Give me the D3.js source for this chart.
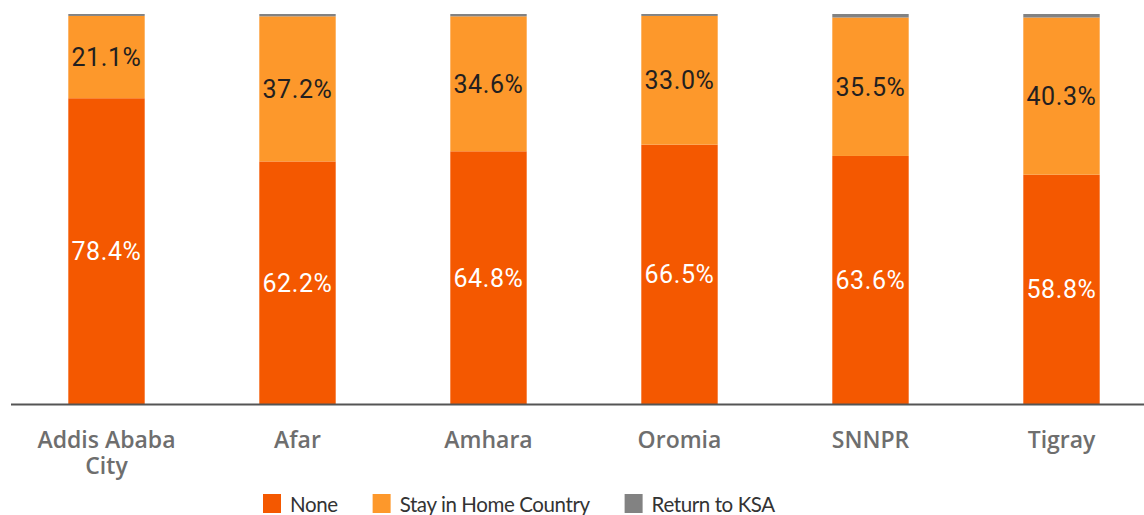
<!doctype html>
<html>
<head>
<meta charset="utf-8">
<script src="https://d3js.org/d3.v7.min.js"></script>
<style>
  body { margin: 0; background: #fff; }
  svg { display: block; }
</style>
</head>
<body>
<div id="chart"></div>
<script>
// data
var regions = ["Addis Ababa City", "Afar", "Amhara", "Oromia", "SNNPR", "Tigray"];
var none = [78.4, 62.2, 64.8, 66.5, 63.6, 58.8];
var stayHome = [21.1, 37.2, 34.6, 33.0, 35.5, 40.3];
var returnKSA = [0.5, 0.6, 0.6, 0.5, 0.9, 0.9];
var seriesNames = ["None", "Stay in Home Country", "Return to KSA"];
var colors = ["#f45800", "#fd982b", "#828282"];

var width = 1144, height = 515;
var baseY = 404, topY = 14;

var svg = d3.select("#chart").append("svg")
  .attr("width", width)
  .attr("height", height);

var rows = regions.map(function(r, i) {
  return { region: r, none: none[i], stay: stayHome[i], ret: returnKSA[i] };
});

var x = d3.scaleBand()
  .domain(regions)
  .range([11, 1157])
  .paddingInner(0.6)
  .paddingOuter(0.3);

var y = d3.scaleLinear()
  .domain([0, 100])
  .range([baseY, topY]);

var stack = d3.stack().keys(["none", "stay", "ret"]);
var layers = stack(rows);

// bars
svg.selectAll("g.layer")
  .data(layers)
  .enter().append("g")
    .attr("class", "layer")
    .attr("fill", function(d, i) { return colors[i]; })
  .selectAll("rect")
  .data(function(d) { return d; })
  .enter().append("rect")
    .attr("x", function(d) { return x(d.data.region); })
    .attr("width", x.bandwidth())
    .attr("y", function(d) { return y(d[1]); })
    .attr("height", function(d) { return y(d[0]) - y(d[1]); });

// value labels for first two series
[0, 1].forEach(function(k) {
  svg.selectAll("text.val" + k)
    .data(layers[k])
    .enter().append("text")
      .attr("class", "val" + k)
      .attr("x", function(d) { return x(d.data.region) + x.bandwidth() / 2; })
      .attr("y", function(d) { return (y(d[0]) + y(d[1])) / 2; })
      .attr("dy", "0.36em")
      .attr("text-anchor", "middle")
      .style("font-family", "Roboto, sans-serif")
      .style("font-size", "25px")
      .style("letter-spacing", "0.6px")
      .attr("fill", k === 0 ? "#ffffff" : "#231f20")
      .text(function(d) { return (d[1] - d[0]).toFixed(1) + "%"; });
});

// x axis
var xAxis = svg.append("g")
  .attr("transform", "translate(0," + baseY + ")")
  .call(d3.axisBottom(x).tickSize(0).tickPadding(0));
xAxis.select(".domain").remove();
svg.append("line")
  .attr("x1", 11).attr("x2", width)
  .attr("y1", baseY + 0.5).attr("y2", baseY + 0.5)
  .attr("stroke", "#555").attr("stroke-width", 2);

xAxis.selectAll(".tick text").remove();
xAxis.selectAll(".tick").each(function(d) {
  var t = d3.select(this).append("text")
    .attr("text-anchor", "middle")
    .attr("fill", "#6e6e6e")
    .style("font-family", "'Open Sans', sans-serif")
    .style("font-weight", "600")
    .style("font-size", "23px");
  var lines = d === "Addis Ababa City" ? ["Addis Ababa", "City"] : [d];
  lines.forEach(function(l, i) {
    t.append("tspan").attr("x", 0).attr("y", 44 + i * 25.5).text(l);
  });
});

// legend
var legend = svg.append("g").attr("transform", "translate(263,0)");
var lx = 0;
seriesNames.forEach(function(name, i) {
  var g = legend.append("g").attr("transform", "translate(" + lx + ",0)");
  g.append("rect")
    .attr("x", 0).attr("y", 494)
    .attr("width", 18).attr("height", 19)
    .attr("fill", colors[i]);
  var t = g.append("text")
    .attr("x", 27).attr("y", 512)
    .attr("fill", "#333")
    .style("font-family", "Lato, sans-serif")
    .style("font-size", "20.5px")
    .style("letter-spacing", "-0.4px")
    .text(name);
  lx += 27 + t.node().getComputedTextLength() + 35;
});
</script>
</body>
</html>
